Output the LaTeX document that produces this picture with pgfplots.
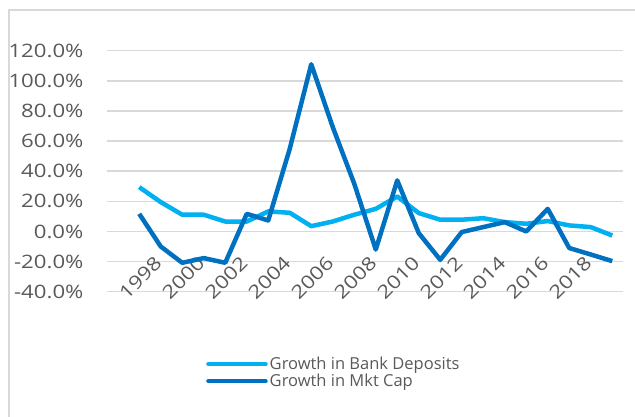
\documentclass[border=0pt]{standalone}
\usepackage{pgfplots}
\pgfplotsset{compat=1.18}
\usepackage{graphicx}
\usepackage{fontspec}
\setmainfont{Open Sans}
\definecolor{lblue}{HTML}{00B0F0}
\definecolor{dblue}{HTML}{0070C0}
\definecolor{gridc}{HTML}{D9D9D9}
\definecolor{txt}{HTML}{595959}
\newcommand\sx[1]{\scalebox{1.2}[1]{#1}}
\begin{document}
\begin{tikzpicture}
\path[use as bounding box] (0,0) rectangle (635pt,416pt);
\draw[gridc, line width=1.5pt] (9pt,-10pt) -- (9pt,406pt) -- (650pt,406pt);
\begin{axis}[
  at={(107pt,124.3pt)}, anchor=south west,
  scale only axis, width=516pt, height=241pt,
  xmin=1995.5, xmax=2019.5, ymin=-40, ymax=120,
  axis line style={draw=none},
  major tick length=0pt,
  ymajorgrids, grid style={gridc, line width=1.5pt},
  ytick={-40,-20,0,20,40,60,80,100,120},
  yticklabels={\sx{-40.0\%},\sx{-20.0\%},\sx{0.0\%},\sx{20.0\%},\sx{40.0\%},\sx{60.0\%},\sx{80.0\%},\sx{100.0\%},\sx{120.0\%}},
  xtick={1998,2000,...,2018},
  xticklabels={\sx{1998},\sx{2000},\sx{2002},\sx{2004},\sx{2006},\sx{2008},\sx{2010},\sx{2012},\sx{2014},\sx{2016},\sx{2018}},
  ticklabel style={font=\fontsize{18.5}{22}\selectfont, text=txt},
  yticklabel style={xshift=-20pt},
  xticklabel shift=-34pt,
  xticklabel style={rotate=45, anchor=east},
  clip=false,
  legend style={draw=none, fill=none, at={(0.19,-0.26)}, anchor=north west,
    font=\fontsize{16.5}{19}\selectfont, text=txt, row sep=0pt,
    inner sep=1pt, legend cell align=left,
    nodes={inner xsep=2pt, inner ysep=1.5pt}},
  legend image code/.code={\draw[#1, line cap=round] (0pt,0pt) -- (57pt,0pt);},
]
\addplot[lblue, line width=4.5pt, line join=round] coordinates {
(1997,29.4) (1998,19.5) (1999,11.1) (2000,11.1) (2001,6.6) (2002,6.6)
(2003,13.3) (2004,12.4) (2005,3.5) (2006,6.6) (2007,11.1) (2008,15.0)
(2009,23.2) (2010,12.2) (2011,7.8) (2012,7.8) (2013,8.8) (2014,6.2)
(2015,5.1) (2016,6.9) (2017,4.0) (2018,2.9) (2019,-2.7)};
\addlegendentry{Growth in Bank Deposits}
\addplot[dblue, line width=4.5pt, line join=round] coordinates {
(1997,11.7) (1998,-10) (1999,-20.8) (2000,-17.7) (2001,-20.8) (2002,11.7)
(2003,7.3) (2004,54.9) (2005,111) (2006,69.3) (2007,31.7) (2008,-12)
(2009,33.9) (2010,-1.1) (2011,-18.8) (2012,-0.4) (2013,2.9) (2014,6.2)
(2015,0) (2016,15) (2017,-11) (2018,-15.3) (2019,-19.7)};
\addlegendentry{Growth in Mkt Cap}
\end{axis}
\end{tikzpicture}
\end{document}
